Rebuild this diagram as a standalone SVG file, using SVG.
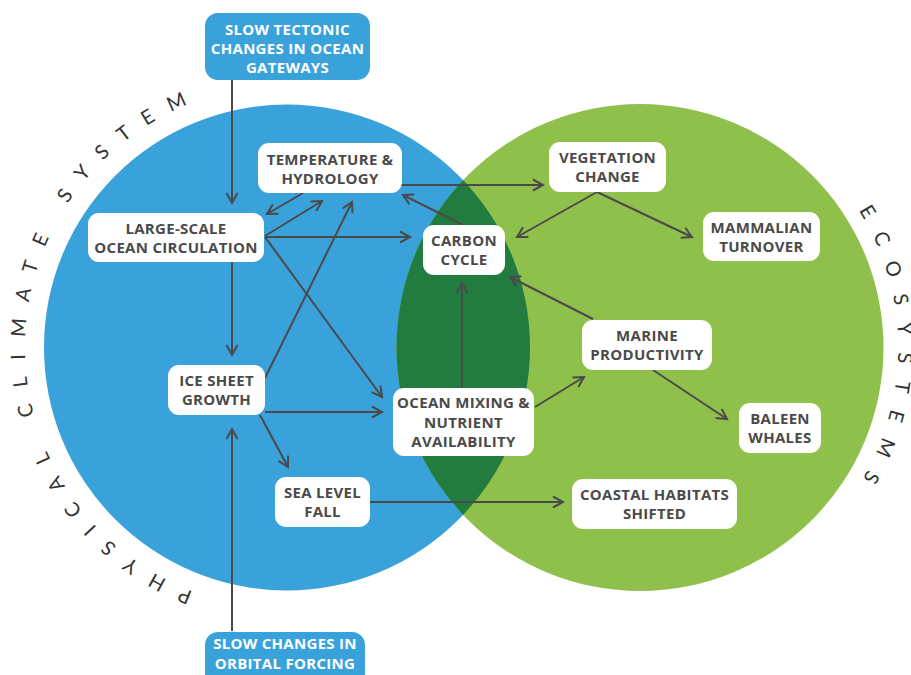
<svg xmlns="http://www.w3.org/2000/svg" width="911" height="675" viewBox="0 0 911 675">
<defs>
<style>
.node rect{fill:#ffffff;}
.node text, .src text{font-family:"Open Sans","Liberation Sans",sans-serif;font-weight:700;font-size:15px;letter-spacing:0.3px;text-anchor:middle;}
.node text{fill:#4a4a4a;}
.src rect{fill:#3aa2db;}
.src text{fill:#ffffff;}
.arc{font-family:"Lato","Open Sans",sans-serif;font-weight:400;font-size:20px;fill:#333333;}
#connectors path{fill:none;stroke:#4a4a4a;stroke-width:2;marker-end:url(#arr);}
</style>
<marker id="arr" viewBox="0 0 12 12" refX="10.5" refY="6" markerWidth="12" markerHeight="12" markerUnits="userSpaceOnUse" orient="auto" overflow="visible">
<path d="M0.5,0.5 L10.5,6 L0.5,11.5" fill="none" stroke="#4a4a4a" stroke-width="2"/>
</marker>
<clipPath id="blueClip"><circle cx="287" cy="347.5" r="243"/></clipPath>
<path id="arcL" d="M193.1,591.6 A262,262 0 0 1 193.1,102.4"/>
<path id="arcR" d="M858.8,210.3 A258,258 0 0 1 858.8,484.7"/>
</defs>
<rect width="911" height="675" fill="#ffffff"/>
<g id="background">
<circle cx="287" cy="347.5" r="243" fill="#3aa2db"/>
<circle cx="640" cy="347.5" r="243.5" fill="#8fc04b"/>
<circle cx="640" cy="347.5" r="243.5" fill="#227c3f" clip-path="url(#blueClip)"/>
</g>
<g id="labels">
<text class="arc"><textPath href="#arcL" textLength="625" lengthAdjust="spacing">PHYSICAL CLIMATE SYSTEM</textPath></text>
<text class="arc"><textPath href="#arcR" textLength="282" lengthAdjust="spacing">ECOSYSTEMS</textPath></text>
</g>
<g id="connectors">
<path d="M232,80 L232,203"/>
<path d="M232,631 L232,429"/>
<path d="M232,262 L232,355"/>
<path d="M303,193 L267,214"/>
<path d="M265,236 L322,201"/>
<path d="M265,378 L352,202"/>
<path d="M265,237 L410,237"/>
<path d="M265,237 L382,397"/>
<path d="M265,412 L382,412"/>
<path d="M260,415 L288,467"/>
<path d="M370,502 L563,502"/>
<path d="M462,388 L462,283"/>
<path d="M535,407 L584,377"/>
<path d="M593,319 L510,277"/>
<path d="M653,370 L727,419"/>
<path d="M463,225 L403,195"/>
<path d="M401,185 L543,185"/>
<path d="M597,192 L517,237"/>
<path d="M597,192 L692,237"/>
</g>
<g id="tectonic" class="src">
<rect x="205" y="13" width="165" height="67" rx="13"/>
<text x="287.5" y="34.5">SLOW TECTONIC</text>
<text x="287.5" y="53.5">CHANGES IN OCEAN</text>
<text x="287.5" y="72.5">GATEWAYS</text>
</g>
<g id="orbital" class="src">
<rect x="205" y="632" width="160" height="60" rx="13"/>
<text x="285" y="648.5">SLOW CHANGES IN</text>
<text x="285" y="668.5">ORBITAL FORCING</text>
</g>
<g id="temperature" class="node">
<rect x="258" y="143" width="144" height="50" rx="11"/>
<text x="330" y="164.5">TEMPERATURE &amp;</text>
<text x="330" y="183.5">HYDROLOGY</text>
</g>
<g id="circulation" class="node">
<rect x="88" y="213" width="176" height="49" rx="11"/>
<text x="176" y="233.5">LARGE-SCALE</text>
<text x="176" y="252.5">OCEAN CIRCULATION</text>
</g>
<g id="carbon" class="node">
<rect x="423" y="225" width="82" height="50" rx="11"/>
<text x="464" y="246">CARBON</text>
<text x="464" y="265">CYCLE</text>
</g>
<g id="vegetation" class="node">
<rect x="549" y="142" width="117" height="50" rx="11"/>
<text x="607.5" y="163">VEGETATION</text>
<text x="607.5" y="182">CHANGE</text>
</g>
<g id="mammalian" class="node">
<rect x="703" y="212" width="117" height="49" rx="11"/>
<text x="761.5" y="232.5">MAMMALIAN</text>
<text x="761.5" y="251.5">TURNOVER</text>
</g>
<g id="icesheet" class="node">
<rect x="168" y="365" width="97" height="50" rx="11"/>
<text x="216.5" y="386">ICE SHEET</text>
<text x="216.5" y="405">GROWTH</text>
</g>
<g id="mixing" class="node">
<rect x="393" y="388" width="141" height="68" rx="11"/>
<text x="463.5" y="408">OCEAN MIXING &amp;</text>
<text x="463.5" y="427.5">NUTRIENT</text>
<text x="463.5" y="447">AVAILABILITY</text>
</g>
<g id="sealevel" class="node">
<rect x="275" y="477" width="95" height="50" rx="11"/>
<text x="322.5" y="498">SEA LEVEL</text>
<text x="322.5" y="517">FALL</text>
</g>
<g id="marine" class="node">
<rect x="582" y="320" width="130" height="50" rx="11"/>
<text x="647" y="341">MARINE</text>
<text x="647" y="360">PRODUCTIVITY</text>
</g>
<g id="baleen" class="node">
<rect x="739" y="403" width="82" height="50" rx="11"/>
<text x="780" y="424">BALEEN</text>
<text x="780" y="443">WHALES</text>
</g>
<g id="coastal" class="node">
<rect x="572" y="479" width="165" height="50" rx="11"/>
<text x="654.5" y="500">COASTAL HABITATS</text>
<text x="654.5" y="519">SHIFTED</text>
</g>
</svg>
